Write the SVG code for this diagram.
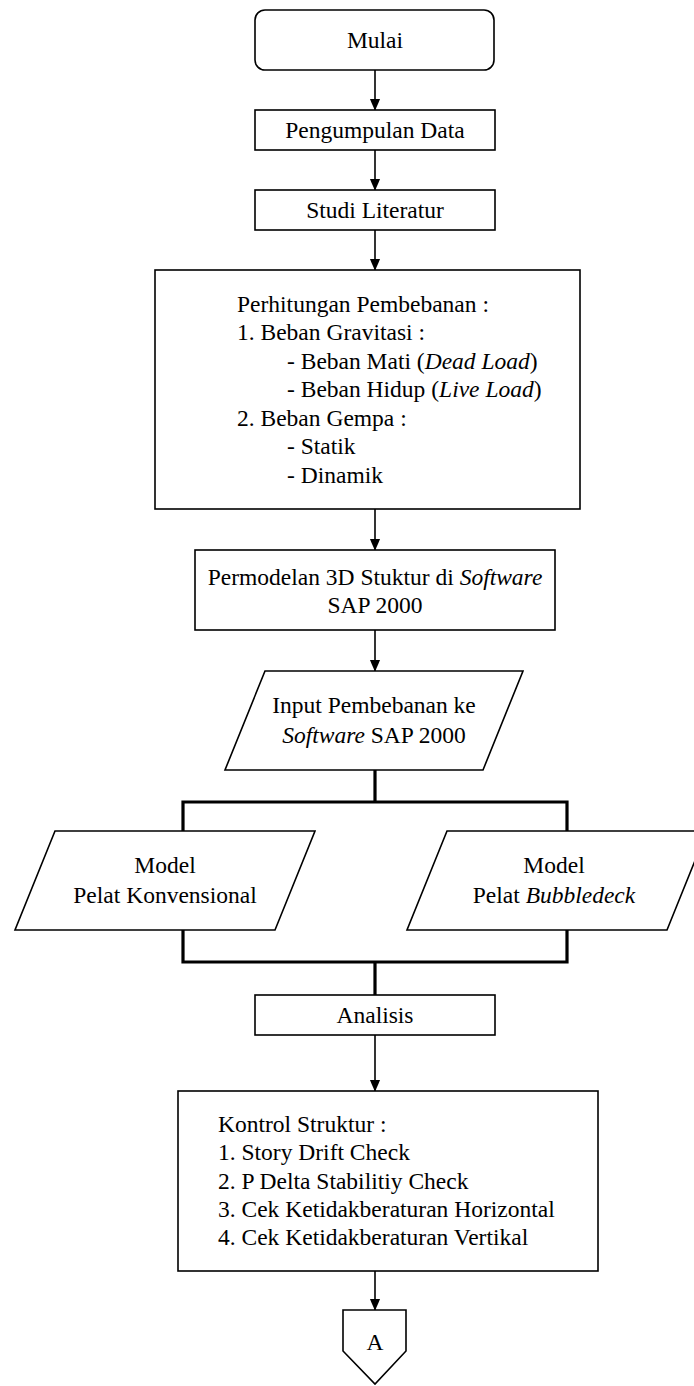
<svg xmlns="http://www.w3.org/2000/svg" width="694" height="1386" viewBox="0 0 694 1386">
<defs>
<style>
.box{fill:#fff;stroke:#000;stroke-width:1.6}
.t{font-family:Liberation Serif,Tinos,DejaVu Serif,Noto Serif,serif;font-size:23.5px;fill:#000}
.c{text-anchor:middle}
.i{font-style:italic}
.ln{stroke:#000;stroke-width:1.6;fill:none}
.thick{stroke:#000;stroke-width:3.2;fill:none}
</style>
<marker id="arr" markerWidth="12" markerHeight="14" refX="13" refY="6" orient="auto" markerUnits="userSpaceOnUse" viewBox="0 0 14 12">
<path d="M0,0 L14,6 L0,12 Z" fill="#000"/>
</marker>
</defs>
<rect width="694" height="1386" fill="#fff"/>
<g id="connectors">
<line class="ln" x1="375" y1="70" x2="375" y2="110" marker-end="url(#arr)"/>
<line class="ln" x1="375" y1="150" x2="375" y2="190" marker-end="url(#arr)"/>
<line class="ln" x1="375" y1="230" x2="375" y2="270" marker-end="url(#arr)"/>
<line class="ln" x1="375" y1="509" x2="375" y2="550" marker-end="url(#arr)"/>
<line class="ln" x1="375" y1="630" x2="375" y2="671" marker-end="url(#arr)"/>
<path class="thick" d="M375,770 V802 M183,831 V802 H567 V831"/>
<path class="thick" d="M183,930 V962 H567 V930 M375,962 V995"/>
<line class="ln" x1="375" y1="1035" x2="375" y2="1091" marker-end="url(#arr)"/>
<line class="ln" x1="375" y1="1271" x2="375" y2="1310" marker-end="url(#arr)"/>
</g>
<g font-family="Liberation Serif, Tinos, DejaVu Serif, serif">
<g id="mulai">
<rect class="box" x="255" y="10" width="239" height="60" rx="10"/>
<text class="t c" x="375" y="48">Mulai</text>
</g>
<g id="pengumpulan">
<rect class="box" x="255" y="110" width="240" height="40"/>
<text class="t c" x="375" y="138">Pengumpulan Data</text>
</g>
<g id="studi">
<rect class="box" x="255" y="190" width="240" height="40"/>
<text class="t c" x="375" y="218">Studi Literatur</text>
</g>
<g id="perhitungan">
<rect class="box" x="155" y="270" width="425" height="239"/>
<text class="t" x="237" y="312">Perhitungan Pembebanan :</text>
<text class="t" x="237" y="340">1. Beban Gravitasi :</text>
<text class="t" x="287" y="369">- Beban Mati (<tspan class="i">Dead Load</tspan>)</text>
<text class="t" x="287" y="397">- Beban Hidup (<tspan class="i">Live Load</tspan>)</text>
<text class="t" x="237" y="426">2. Beban Gempa :</text>
<text class="t" x="287" y="454">- Statik</text>
<text class="t" x="287" y="483">- Dinamik</text>
</g>
<g id="permodelan">
<rect class="box" x="195" y="550" width="360" height="80"/>
<text class="t c" x="375" y="585">Permodelan 3D Stuktur di <tspan class="i">Software</tspan></text>
<text class="t c" x="375" y="613">SAP 2000</text>
</g>
<g id="input">
<polygon class="box" points="265,671 523,671 483,770 225,770"/>
<text class="t c" x="374" y="713">Input Pembebanan ke</text>
<text class="t c" x="374" y="743"><tspan class="i">Software</tspan> SAP 2000</text>
</g>
<g id="konvensional">
<polygon class="box" points="55,831 315,831 275,930 15,930"/>
<text class="t c" x="165" y="873">Model</text>
<text class="t c" x="165" y="903">Pelat Konvensional</text>
</g>
<g id="bubbledeck">
<polygon class="box" points="447,831 707,831 667,930 407,930"/>
<text class="t c" x="554" y="873">Model</text>
<text class="t c" x="554" y="903">Pelat <tspan class="i">Bubbledeck</tspan></text>
</g>
<g id="analisis">
<rect class="box" x="255" y="995" width="240" height="40"/>
<text class="t c" x="375" y="1023">Analisis</text>
</g>
<g id="kontrol">
<rect class="box" x="178" y="1091" width="420" height="180"/>
<text class="t" x="218" y="1132">Kontrol Struktur :</text>
<text class="t" x="218" y="1160">1. Story Drift Check</text>
<text class="t" x="218" y="1189">2. P Delta Stabilitiy Check</text>
<text class="t" x="218" y="1217">3. Cek Ketidakberaturan Horizontal</text>
<text class="t" x="218" y="1245">4. Cek Ketidakberaturan Vertikal</text>
</g>
<g id="offpage">
<polygon class="box" points="343,1310 406,1310 406,1351 375,1384 343,1351"/>
<text class="t c" x="375" y="1350">A</text>
</g>
</g>
</svg>
